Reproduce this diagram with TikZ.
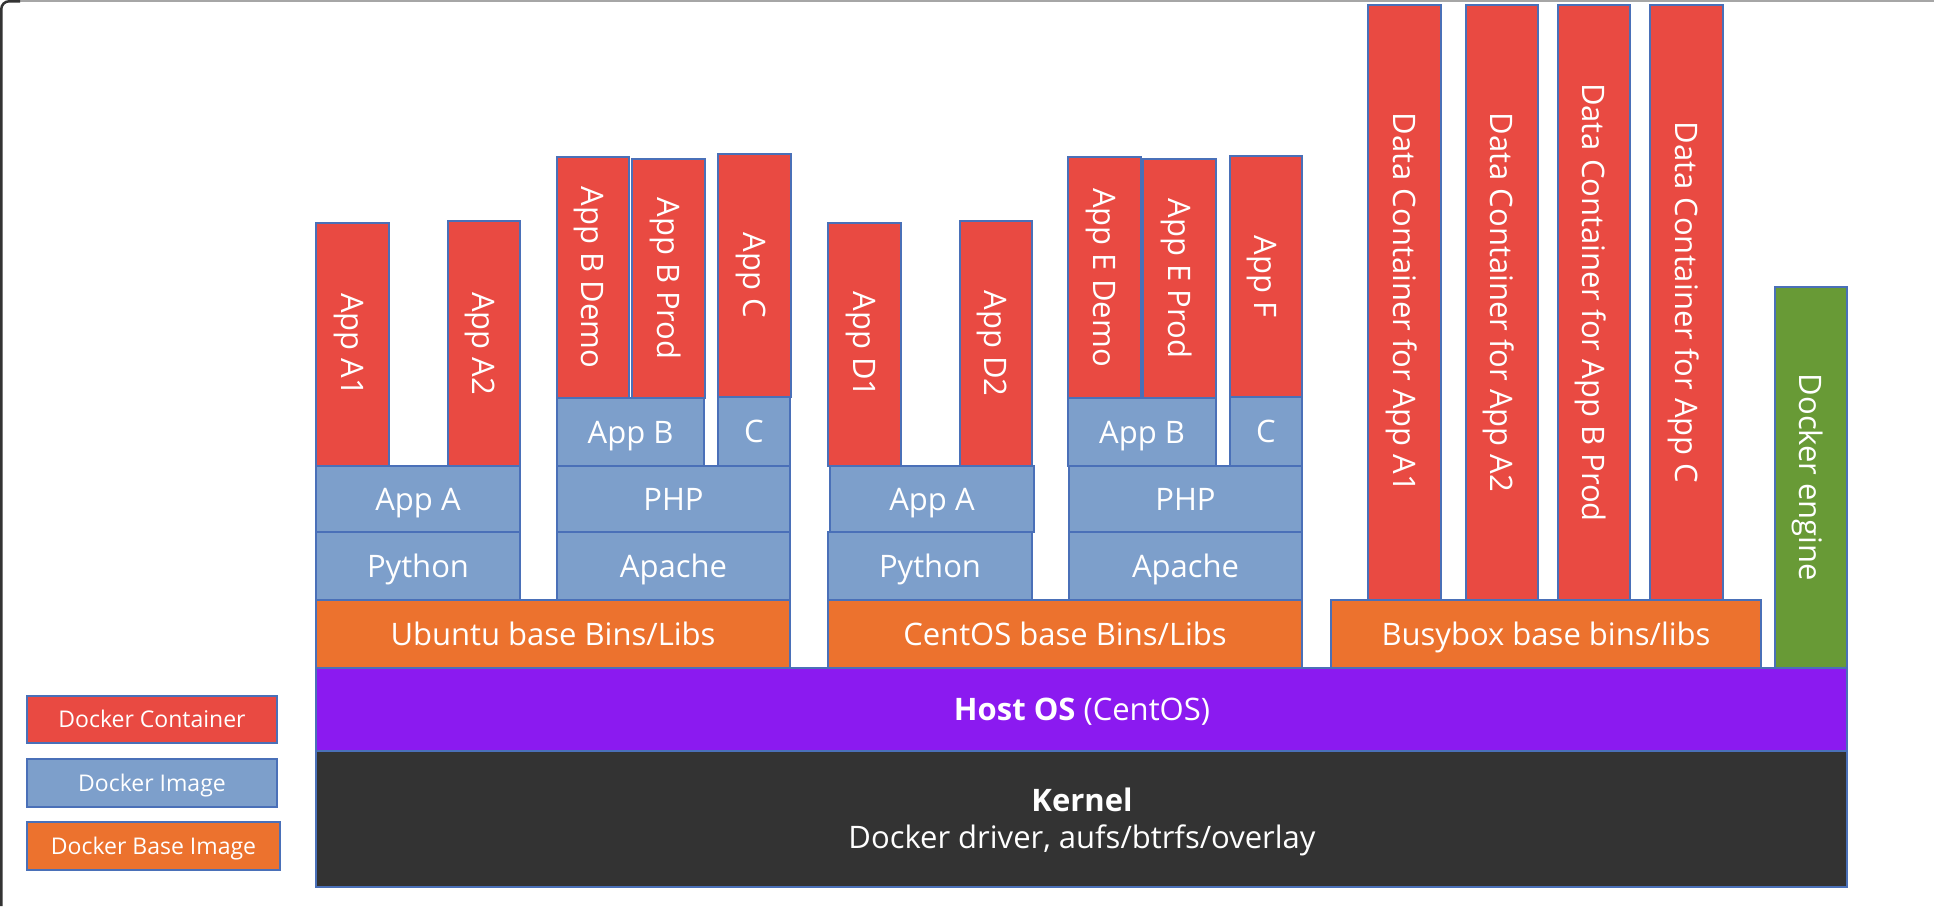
\documentclass[tikz,border=0pt]{standalone}
\usepackage{fontspec}
\setmainfont{Open Sans}
\definecolor{cred}{RGB}{233,74,66}
\definecolor{cimg}{RGB}{125,159,203}
\definecolor{cbase}{RGB}{236,114,46}
\definecolor{cpurp}{RGB}{139,26,240}
\definecolor{cdark}{RGB}{51,51,51}
\definecolor{cgreen}{RGB}{104,154,54}
\definecolor{cbord}{RGB}{74,112,184}
\tikzset{
  blk/.style={draw=cbord, line width=2pt, inner sep=0pt, outer sep=0pt, text=white,
    font=\fontsize{31}{37}\selectfont, text height=22.1pt, text depth=0pt},
  cont/.style={blk, fill=cred},
  img/.style={blk, fill=cimg},
  basei/.style={blk, fill=cbase},
  engine/.style={blk, fill=cgreen},
  hostos/.style={blk, fill=cpurp},
  kern/.style={blk, fill=cdark},
  legend/.style={font=\fontsize{23}{28}\selectfont, text height=16.4pt},
  ktxt/.style={text=white, inner sep=0pt, font=\fontsize{31}{37}\selectfont},
}
\newcommand\hblock[7]{\node[#2, minimum width={(#5)-(#3)}, minimum height={(#6)-(#4)}] (#1) at ({((#3)+(#5))/2},{((#4)+(#6))/2}) {#7};}
\newcommand\vblock[7]{\node[#2, rotate=-90, minimum width={(#6)-(#4)}, minimum height={(#5)-(#3)}] (#1) at ({((#3)+(#5))/2},{((#4)+(#6))/2}) {#7};}
\begin{document}
\begin{tikzpicture}[x=1pt,y=-1pt]
\useasboundingbox (0,0) rectangle (1934,906);
% window frame
\draw[black!35, line width=1.5pt] (10,0.75) -- (1934,0.75);
\draw[black!80, line width=2.5pt, rounded corners=8pt] (1.25,906) -- (1.25,1.25) -- (20,1.25);
% legend
\hblock{lgc}{cont,legend}{27}{696}{277}{743}{Docker Container}
\hblock{lgi}{img,legend}{27}{759}{277}{807}{Docker Image}
\hblock{lgb}{basei,legend}{27}{822}{280}{870}{Docker Base Image}
% kernel and host
\hblock{kernel}{kern}{316}{751}{1847}{887}{}
\node[ktxt, anchor=base, font=\fontsize{31}{37}\selectfont\bfseries] (ktitle) at (1082,811) {Kernel};
\node[ktxt, anchor=base] (ksub) at (1082,848) {Docker driver, aufs/btrfs/overlay};
\hblock{host}{hostos}{316}{668}{1847}{751}{}
\node[ktxt, anchor=base] (hosttxt) at (1082,720) {\textbf{Host OS} (CentOS)};
% base images
\hblock{ubu}{basei}{316}{600}{790}{668}{Ubuntu base Bins/Libs}
\hblock{cen}{basei}{828}{600}{1302}{668}{CentOS base Bins/Libs}
\hblock{bus}{basei}{1331}{600}{1761}{668}{Busybox base bins/libs}
\vblock{eng}{engine}{1775}{287}{1847}{668}{Docker engine}
% stack 1 images
\hblock{py1}{img}{316}{532}{520}{600}{Python}
\hblock{apa1}{img}{316}{466}{520}{532}{App A}
\hblock{apc1}{img}{557}{532}{790}{600}{Apache}
\hblock{php1}{img}{557}{466}{790}{532}{PHP}
\hblock{appb1}{img}{557}{398}{704}{466}{App B}
\hblock{c1}{img}{718}{397}{790}{466}{C}
% stack 1 containers
\vblock{a1}{cont}{316}{223}{389}{466}{App A1}
\vblock{a2}{cont}{448}{221}{520}{466}{App A2}
\vblock{bdemo}{cont}{557}{157}{629}{398}{App B Demo}
\vblock{bprod}{cont}{632}{159}{705}{398}{App B Prod}
\vblock{appc}{cont}{718}{154}{791}{397}{App C}
% stack 2 images
\hblock{py2}{img}{828}{532}{1032}{600}{Python}
\hblock{apa2}{img}{830}{466}{1034}{532}{App A}
\hblock{apc2}{img}{1069}{532}{1302}{600}{Apache}
\hblock{php2}{img}{1069}{466}{1302}{532}{PHP}
\hblock{appb2}{img}{1068}{398}{1216}{466}{App B}
\hblock{c2}{img}{1230}{397}{1302}{466}{C}
% stack 2 containers
\vblock{d1}{cont}{828}{223}{901}{466}{App D1}
\vblock{d2}{cont}{960}{221}{1032}{466}{App D2}
\vblock{edemo}{cont}{1068}{157}{1141}{398}{App E Demo}
\vblock{eprod}{cont}{1143}{159}{1216}{398}{App E Prod}
\vblock{appf}{cont}{1230}{156}{1302}{397}{App F}
% data containers
\vblock{dc1}{cont}{1368}{5}{1441}{600}{Data Container for App A1}
\vblock{dc2}{cont}{1466}{5}{1538}{600}{Data Container for App A2}
\vblock{dc3}{cont}{1558}{5}{1630}{600}{Data Container for App B Prod}
\vblock{dc4}{cont}{1650}{5}{1723}{600}{Data Container for App C}
\end{tikzpicture}
\end{document}
